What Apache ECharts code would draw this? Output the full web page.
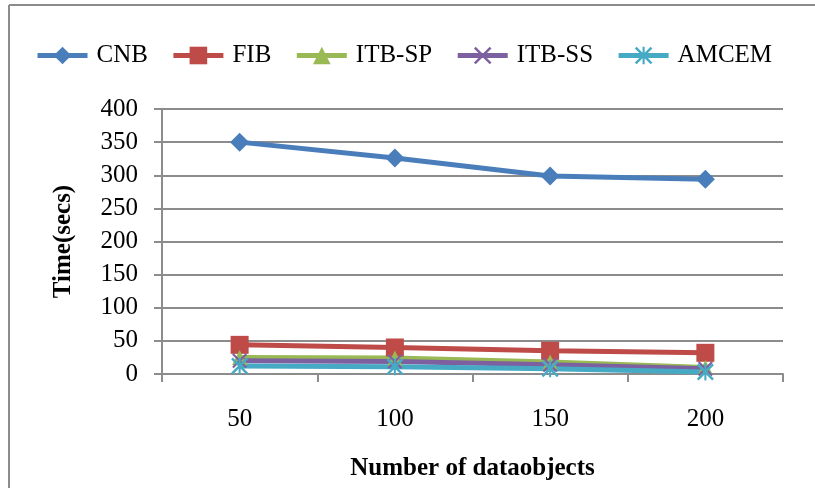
<!DOCTYPE html>
<html>
<head>
<meta charset="utf-8">
<script src="https://cdn.jsdelivr.net/npm/echarts@6/dist/echarts.min.js"></script>
<style>
html,body{margin:0;padding:0;background:#fff;}
#chart{width:815px;height:488px;}
</style>
</head>
<body>
<div id="chart"></div>
<script>
const categories = ['50', '100', '150', '200'];
const cnb = [350, 326, 299, 294];
const fib = [44, 40, 35, 32];
const itbSp = [25, 24, 18, 10];
const itbSs = [20, 19, 14, 8];
const amcem = [12, 11, 8, 3];
const yTicks = { min: 0, max: 400, interval: 50 };

const FONT = '"Liberation Serif", "Times New Roman", serif';
const X_PATH = 'path://M0,1 L1,0 L10,9 L9,10 Z M9,0 L10,1 L1,10 L0,9 Z';
const STAR_PATH = 'path://M0,1 L1,0 L10,9 L9,10 Z M9,0 L10,1 L1,10 L0,9 Z M4.4,0 L5.6,0 L5.6,10 L4.4,10 Z';

function mk(name, data, color, symbol, size) {
  return {
    name: name, type: 'line', data: data,
    symbol: symbol, symbolSize: size,
    lineStyle: { color: color, width: 5 },
    itemStyle: { color: color },
    animation: false
  };
}

const chart = echarts.init(document.getElementById('chart'));
chart.setOption({
  backgroundColor: '#fff',
  animation: false,
  graphic: [
    { type: 'line', shape: { x1: 9, y1: 5, x2: 815, y2: 5 }, style: { stroke: '#8c8c8c', lineWidth: 2 } },
    { type: 'line', shape: { x1: 9, y1: 5, x2: 9, y2: 488 }, style: { stroke: '#8c8c8c', lineWidth: 2 } }
  ],
  legend: {
    left: 30, top: 38,
    itemWidth: 50, itemHeight: 22, itemGap: 23,
    lineStyle: { width: 5 },
    textStyle: { fontFamily: FONT, fontSize: 25, color: '#000', padding: [0, 0, 0, 4] },
    data: ['CNB', 'FIB', 'ITB-SP', 'ITB-SS', 'AMCEM']
  },
  grid: { left: 162, right: 32, top: 109, bottom: 114 },
  xAxis: {
    type: 'category', data: categories, boundaryGap: true,
    name: 'Number of dataobjects', nameLocation: 'middle', nameGap: 82,
    nameTextStyle: { fontFamily: FONT, fontSize: 25, fontWeight: 'bold', color: '#000' },
    axisLine: { lineStyle: { color: '#8c8c8c', width: 2 } },
    axisTick: { show: true, length: 8, lineStyle: { color: '#8c8c8c', width: 2 } },
    axisLabel: { fontFamily: FONT, fontSize: 25, color: '#000', margin: 33 }
  },
  yAxis: {
    type: 'value', min: yTicks.min, max: yTicks.max, interval: yTicks.interval,
    name: 'Time(secs)', nameLocation: 'middle', nameGap: 86, nameRotate: 90,
    nameTextStyle: { fontFamily: FONT, fontSize: 25, fontWeight: 'bold', color: '#000' },
    axisLine: { show: true, lineStyle: { color: '#8c8c8c', width: 2 } },
    axisTick: { show: true, length: 8, lineStyle: { color: '#8c8c8c', width: 2 } },
    axisLabel: { fontFamily: FONT, fontSize: 25, color: '#000', margin: 24 },
    splitLine: { show: true, lineStyle: { color: '#8c8c8c', width: 2 } }
  },
  series: [
    mk('CNB', cnb, '#4a7ebb', 'diamond', 19),
    mk('FIB', fib, '#be4b48', 'rect', 18),
    mk('ITB-SP', itbSp, '#98b954', 'triangle', 15),
    mk('ITB-SS', itbSs, '#7d60a0', X_PATH, 15),
    mk('AMCEM', amcem, '#46aac5', STAR_PATH, 17)
  ]
});
</script>
</body>
</html>
